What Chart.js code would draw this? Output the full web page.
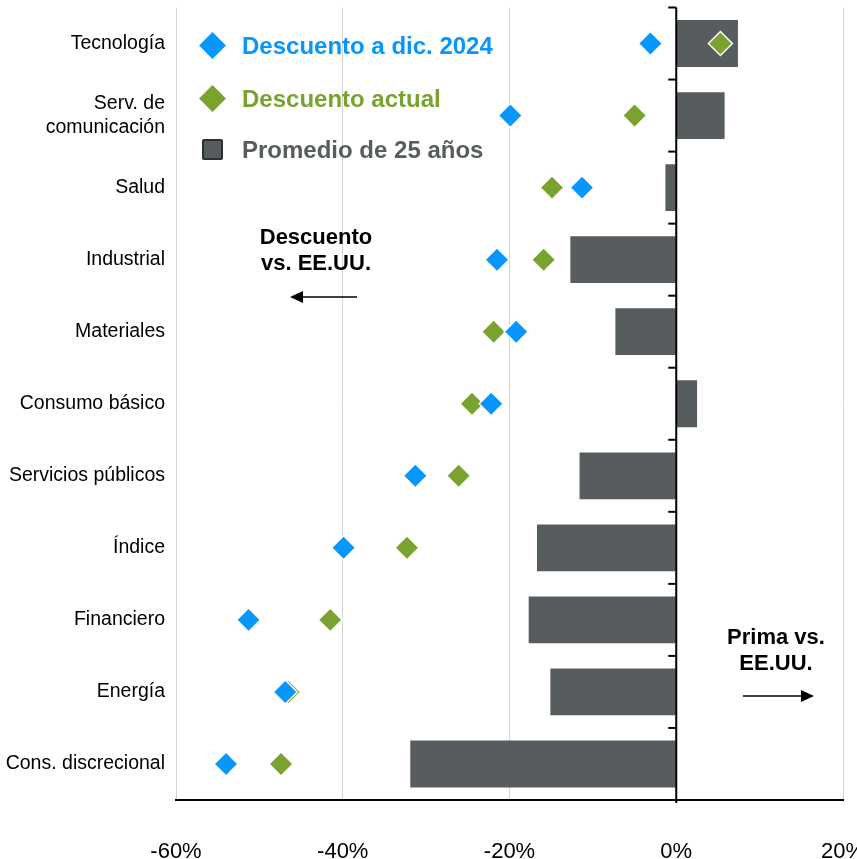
<!DOCTYPE html>
<html>
<head>
<meta charset="utf-8">
<script src="https://cdn.jsdelivr.net/npm/chart.js@4.4.1/dist/chart.umd.min.js"></script>
<style>
  body { margin: 0; background: #fff; }
  #wrap { position: relative; width: 857px; height: 859px; overflow: hidden; font-family: "Liberation Sans", Arial, sans-serif; }
  #box { position: absolute; left: 0; top: -6px; width: 857px; height: 865px; }
  .leg { position: absolute; left: 242px; height: 30px; line-height: 30px; font-size: 24px; font-weight: bold; white-space: nowrap; }
  .dia { position: absolute; width: 19px; height: 19px; transform: rotate(45deg); }
  .sq { position: absolute; width: 17px; height: 17px; background: #575c5f; border: 2px solid #2b3033; border-radius: 2px; }
  .note { position: absolute; text-align: center; font-size: 22px; font-weight: bold; line-height: 26px; color: #000; white-space: nowrap; }
</style>
</head>
<body>
<div id="wrap">
  <div id="box"><canvas id="myChart"></canvas></div>

  <div class="dia" style="left:203px;top:36px;background:#0796fb;"></div>
  <div class="leg" style="top:31px;color:#0796fb;">Descuento a dic. 2024</div>
  <div class="dia" style="left:203px;top:89px;background:#79a22e;"></div>
  <div class="leg" style="top:84px;color:#79a22e;">Descuento actual</div>
  <div class="sq" style="left:202px;top:139px;"></div>
  <div class="leg" style="top:135px;color:#575c5f;">Promedio de 25 años</div>

  <div class="note" style="left:216px;width:200px;top:224px;">Descuento<br>vs. EE.UU.</div>
  <div class="note" style="left:676px;width:200px;top:624px;">Prima vs.<br>EE.UU.</div>

  <svg width="857" height="859" style="position:absolute;left:0;top:0;pointer-events:none;">
    <line x1="357" y1="297" x2="300" y2="297" stroke="#000" stroke-width="1.5"/>
    <polygon points="290,297 303,291 303,303" fill="#000"/>
    <line x1="743" y1="696" x2="802" y2="696" stroke="#000" stroke-width="1.5"/>
    <polygon points="814,696 801,690 801,702" fill="#000"/>
  </svg>
</div>

<script>
// sectors, top to bottom
var sectors = ["Tecnología", ["Serv. de", "comunicación"], "Salud", "Industrial", "Materiales",
  "Consumo básico", "Servicios públicos", "Índice", "Financiero", "Energía", "Cons. discrecional"];

// premium (+) / discount (-) vs. US, in %
var promedio25 = [7.4, 5.8, -1.3, -12.7, -7.3, 2.5, -11.6, -16.7, -17.7, -15.1, -31.9];
var descuentoDic2024 = [-3.1, -19.9, -11.3, -21.5, -19.2, -22.2, -31.3, -39.9, -51.3, -46.9, -54.0];
var descuentoActual = [5.3, -5.0, -14.9, -15.9, -21.9, -24.5, -26.1, -32.3, -41.5, -46.5, -47.4];

var xTicks = [-60, -40, -20, 0, 20];

// black zero line with small ticks between categories
var zeroLine = {
  id: "zeroLine",
  afterDatasetsDraw: function(chart) {
    var ctx = chart.ctx;
    var area = chart.chartArea;
    var x = chart.scales.x.getPixelForValue(0);
    var y = chart.scales.y;
    ctx.save();
    ctx.strokeStyle = "#000";
    ctx.lineWidth = 2;
    ctx.beginPath();
    ctx.moveTo(x, area.top);
    ctx.lineTo(x, area.bottom + 3);
    ctx.stroke();
    for (var i = 0; i <= sectors.length; i++) {
      var yy;
      if (i === 0) yy = area.top;
      else if (i === sectors.length) yy = area.bottom;
      else yy = (y.getPixelForValue(i - 1) + y.getPixelForValue(i)) / 2;
      ctx.beginPath();
      ctx.moveTo(x - 8, yy);
      ctx.lineTo(x, yy);
      ctx.stroke();
    }
    ctx.restore();
  }
};

new Chart("myChart", {
  type: "bar",
  data: {
    labels: sectors,
    datasets: [{
      type: "line",
      label: "Descuento a dic. 2024",
      data: descuentoDic2024,
      showLine: false,
      pointStyle: "rectRot",
      pointRadius: 12,
      pointBackgroundColor: "#0796fb",
      pointBorderColor: "#fff",
      pointBorderWidth: 1.5,
      order: 0
    }, {
      type: "line",
      label: "Descuento actual",
      data: descuentoActual,
      showLine: false,
      pointStyle: "rectRot",
      pointRadius: 12,
      pointBackgroundColor: "#79a22e",
      pointBorderColor: "#fff",
      pointBorderWidth: 1.5,
      order: 1
    }, {
      label: "Promedio de 25 años",
      data: promedio25,
      backgroundColor: "#575c5f",
      barPercentage: 0.65,
      categoryPercentage: 1,
      order: 2
    }]
  },
  options: {
    indexAxis: "y",
    responsive: true,
    maintainAspectRatio: false,
    animation: false,
    layout: { padding: { top: 1, right: 14, left: 0, bottom: 0 } },
    plugins: {
      legend: { display: false },
      tooltip: { enabled: false }
    },
    scales: {
      x: {
        min: -60,
        max: 20,
        afterBuildTicks: function(scale) {
          scale.ticks = xTicks.map(function(v) { return { value: v }; });
        },
        afterFit: function(scale) {
          scale.height = 59;
          scale.paddingLeft = 0;
          scale.paddingRight = 0;
        },
        grid: {
          drawTicks: false,
          color: function(c) { return c.tick && c.tick.value === 0 ? "rgba(0,0,0,0)" : "#d4d4d4"; },
          lineWidth: 1
        },
        border: { display: true, color: "#000", width: 2 },
        ticks: {
          padding: 39,
          maxRotation: 0,
          color: "#000",
          font: { family: "'Liberation Sans', Arial, sans-serif", size: 22 },
          callback: function(v) { return v + "%"; }
        }
      },
      y: {
        afterFit: function(scale) {
          scale.width = 176;
          scale.paddingTop = 0;
          scale.paddingBottom = 0;
        },
        grid: { display: false, drawTicks: false },
        border: { display: false },
        ticks: {
          padding: 11,
          color: "#000",
          font: { family: "'Liberation Sans', Arial, sans-serif", size: 19.5, lineHeight: 1.25 }
        }
      }
    }
  },
  plugins: [zeroLine]
});
</script>
</body>
</html>
